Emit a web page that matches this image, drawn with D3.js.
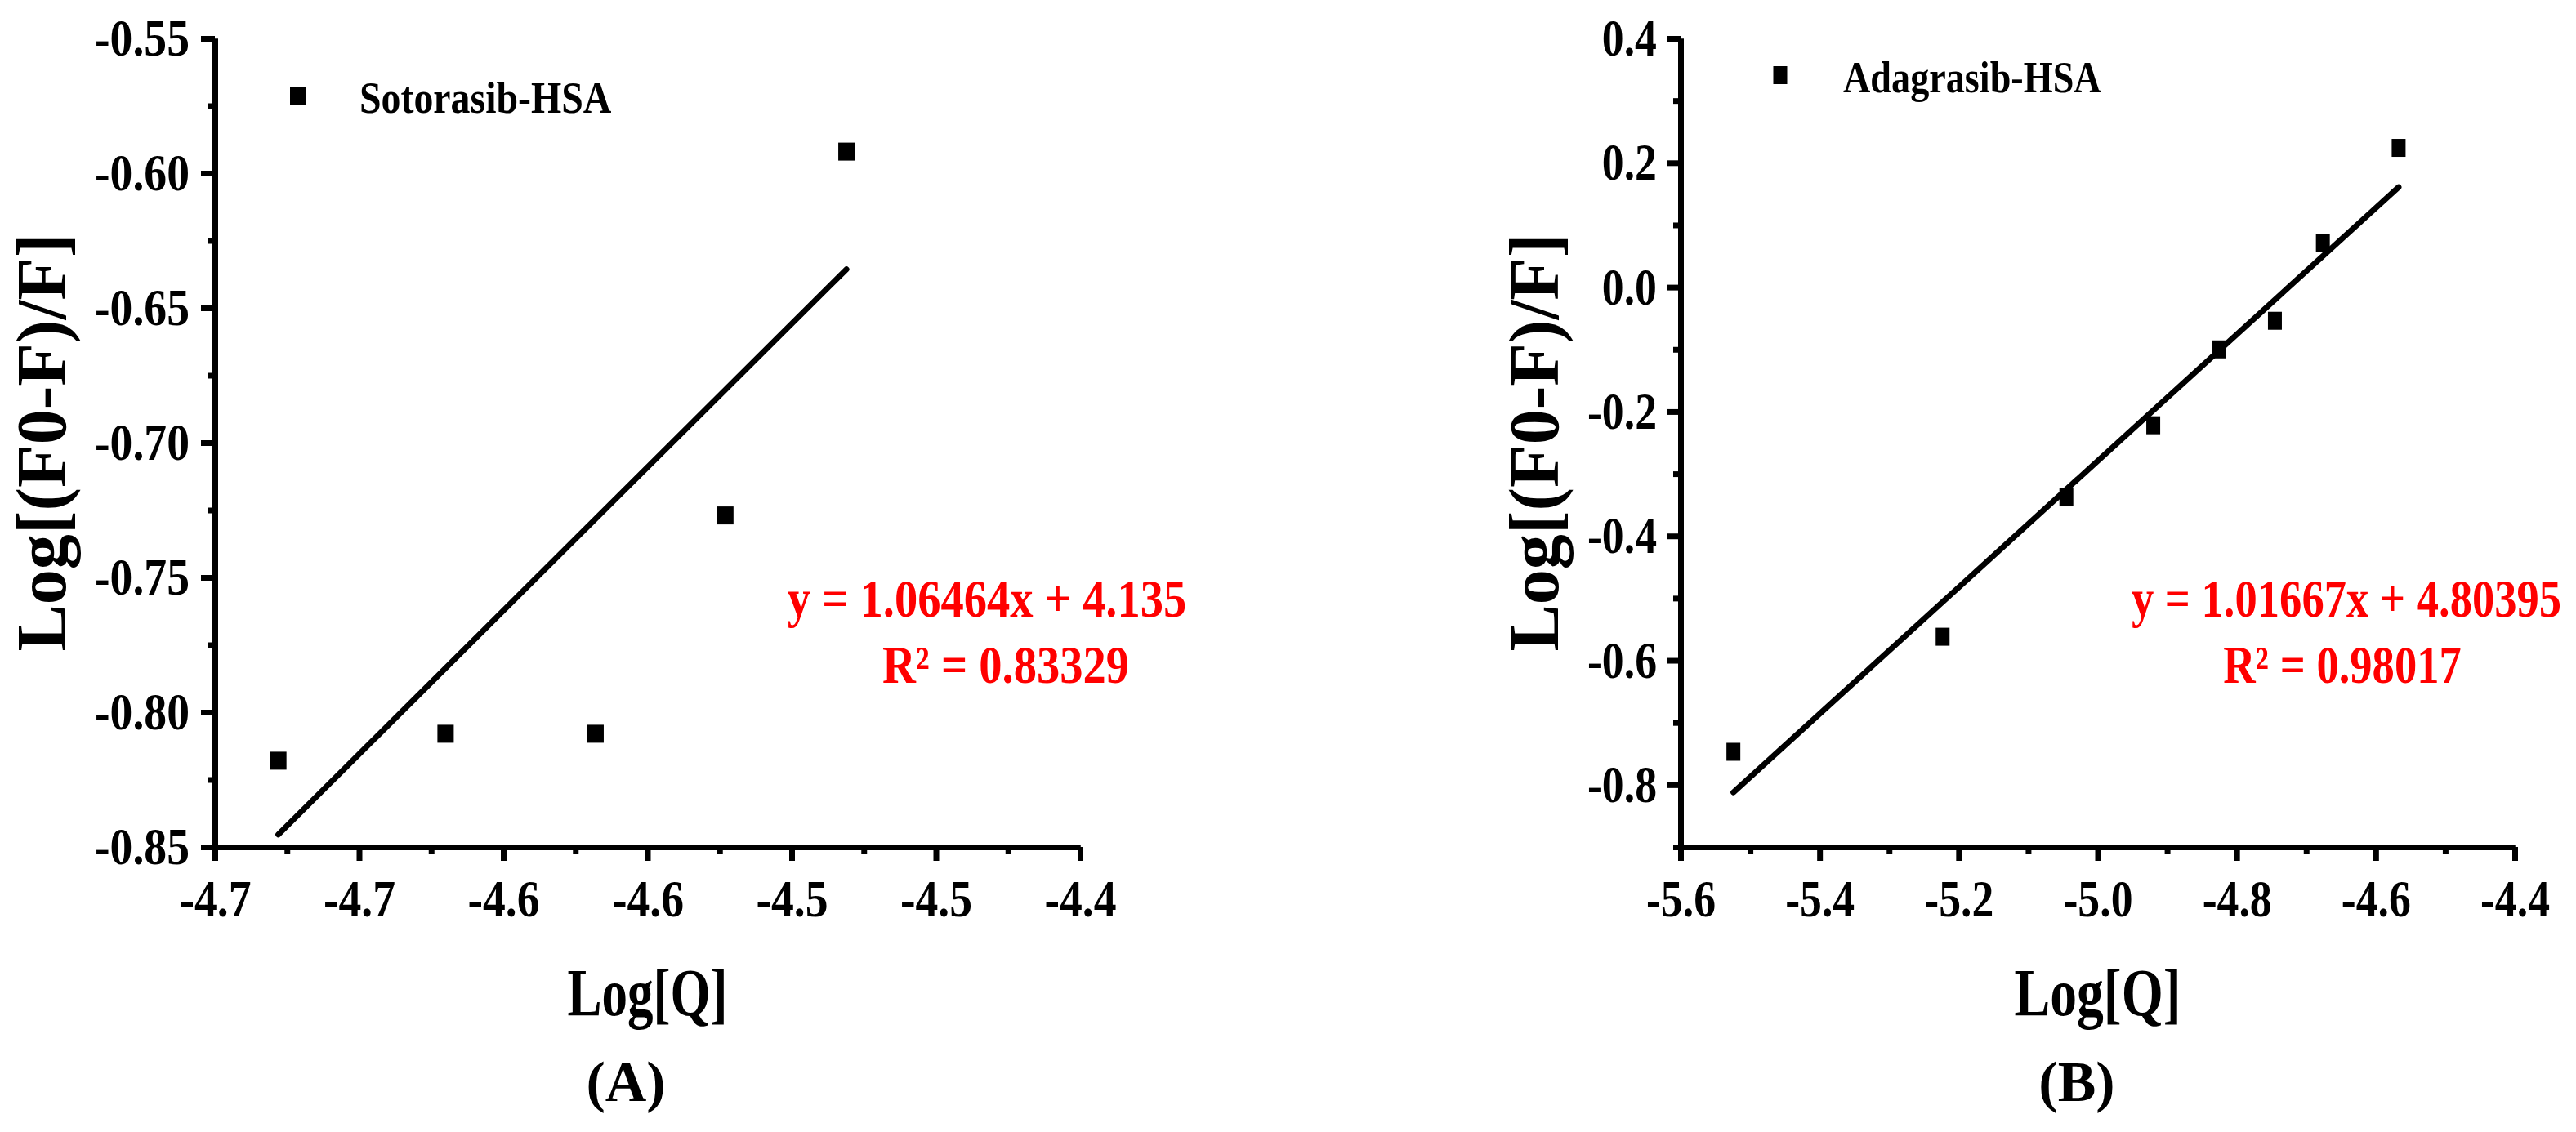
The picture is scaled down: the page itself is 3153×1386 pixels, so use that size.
<!DOCTYPE html>
<html>
<head>
<meta charset="utf-8">
<script src="https://cdn.jsdelivr.net/npm/d3@7"></script>
<style>
  body { margin: 0; background: #fff; }
  text { font-family: "Liberation Serif", "Times New Roman", serif; font-weight: bold; }
</style>
</head>
<body>
<div id="vis-container"></div>
<script>

const width = 3153,
    height = 1386;

// (A) Sotorasib-HSA
const sotoLogQ = [-4.678, -4.620, -4.568, -4.523, -4.481];
const sotoLogF = [-0.818, -0.808, -0.808, -0.727, -0.592];
const sotoFit = [1.06464, 4.135];          // slope, intercept
const sotoXTicks = [-4.70, -4.65, -4.60, -4.55, -4.50, -4.45, -4.40];
const sotoXLabels = ["-4.7", "-4.7", "-4.6", "-4.6", "-4.5", "-4.5", "-4.4"];
const sotoYTicks = [-0.85, -0.80, -0.75, -0.70, -0.65, -0.60, -0.55];
const sotoYLabels = ["-0.85", "-0.80", "-0.75", "-0.70", "-0.65", "-0.60", "-0.55"];

// (B) Adagrasib-HSA
const adaLogQ = [-5.524, -5.223, -5.045, -4.920, -4.825, -4.745, -4.676, -4.567];
const adaLogF = [-0.747, -0.562, -0.338, -0.222, -0.100, -0.054, 0.071, 0.224];
const adaFit = [1.01667, 4.80395];
const adaXTicks = [-5.6, -5.4, -5.2, -5.0, -4.8, -4.6, -4.4];
const adaXLabels = ["-5.6", "-5.4", "-5.2", "-5.0", "-4.8", "-4.6", "-4.4"];
const adaYTicks = [-0.8, -0.6, -0.4, -0.2, 0.0, 0.2, 0.4];
const adaYLabels = ["-0.8", "-0.6", "-0.4", "-0.2", "0.0", "0.2", "0.4"];

var svg = d3.select("#vis-container").append("svg")
    .attr("width", width)
    .attr("height", height);

// small helper for horizontally condensed text (the figure is squeezed a bit)
function label(g, x, y, str, size, sx, anchor, fill) {
    return g.append("text")
        .attr("transform", `translate(${x},${y}) scale(${sx},1)`)
        .attr("text-anchor", anchor)
        .style("font-size", size + "px")
        .attr("fill", fill || "#000")
        .text(str);
}

function midpoints(a) {
    var m = [];
    for (var i = 0; i < a.length - 1; i++) m.push((a[i] + a[i + 1]) / 2);
    return m;
}

function drawPanel(p) {
    var g = svg.append("g");
    var top = 47, bottom = 1037;

    var x = d3.scaleLinear().domain([p.xTicks[0], p.xTicks[p.xTicks.length - 1]]).range([p.left, p.right]);
    var y = d3.scaleLinear().domain(p.yDomain).range([bottom, top]);

    var yMinor = midpoints(p.yTicks);
    if (p.yDomain[0] < p.yTicks[0]) yMinor.unshift(p.yDomain[0]);

    // minor ticks
    g.append("g")
        .attr("transform", `translate(0,${bottom})`)
        .call(d3.axisBottom(x).tickValues(midpoints(p.xTicks)).tickSize(9).tickSizeOuter(0).tickFormat(""));
    g.append("g")
        .attr("transform", `translate(${p.left},0)`)
        .call(d3.axisLeft(y).tickValues(yMinor).tickSize(9).tickSizeOuter(0).tickFormat(""));

    // major ticks + labels
    var xAxis = g.append("g")
        .attr("transform", `translate(0,${bottom})`)
        .call(d3.axisBottom(x).tickValues(p.xTicks).tickSize(17).tickSizeOuter(0)
            .tickFormat((d, i) => p.xLabels[i]));
    xAxis.selectAll("text")
        .attr("y", 85).attr("dy", 0)
        .attr("transform", `scale(${p.sx},1)`)
        .style("font-size", "64px").attr("fill", "#000");

    var yAxis = g.append("g")
        .attr("transform", `translate(${p.left},0)`)
        .call(d3.axisLeft(y).tickValues(p.yTicks).tickSize(17).tickSizeOuter(0)
            .tickFormat((d, i) => p.yLabels[i]));
    yAxis.selectAll("text")
        .attr("x", -p.labelGap / p.sx)
        .attr("transform", `scale(${p.sx},1)`)
        .style("font-size", "64px").attr("fill", "#000");

    g.selectAll("path.domain, .tick line")
        .attr("stroke", "#000")
        .attr("stroke-width", 7);

    // fit line
    var xs = d3.extent(p.xs);
    g.append("line")
        .attr("x1", x(xs[0])).attr("y1", y(p.fit[0] * xs[0] + p.fit[1]))
        .attr("x2", x(xs[1])).attr("y2", y(p.fit[0] * xs[1] + p.fit[1]))
        .attr("stroke", "#000")
        .attr("stroke-width", 7)
        .attr("stroke-linecap", "round");

    // data points
    g.selectAll("rect.pt")
        .data(p.xs.map((d, i) => [d, p.ys[i]]))
        .enter().append("rect")
        .attr("class", "pt")
        .attr("x", d => x(d[0]) - p.mw / 2)
        .attr("y", d => y(d[1]) - p.mh / 2)
        .attr("width", p.mw)
        .attr("height", p.mh)
        .attr("fill", "#000");

    // legend
    g.append("rect")
        .attr("x", p.legend[0] - p.mw / 2).attr("y", p.legend[1] - p.mh / 2)
        .attr("width", p.mw).attr("height", p.mh)
        .attr("fill", "#000");
    label(g, p.legend[2], p.legend[1] + 21, p.name, 55, p.sx, "start");

    // equation
    label(g, p.eqX[0], 755, p.eq, 65, p.sx, "middle", "#ff0000");
    label(g, p.eqX[1], 836, p.r2, 65, p.sx, "middle", "#ff0000");

    // axis titles
    var cx = (p.left + p.right) / 2;
    label(g, cx, 1243, "Log[Q]", 83, p.titleSx, "middle");
    label(g, p.tagX, 1348, p.tag, 70, 1, "middle");

    g.append("text")
        .attr("transform", `translate(${p.yTitleX},542) rotate(-90)`)
        .attr("text-anchor", "middle")
        .style("font-size", "86px")
        .text("Log[(F0-F)/F]");
}

drawPanel({
    left: 263, right: 1322, sx: 0.87, titleSx: 0.76, labelGap: 31,
    xs: sotoLogQ, ys: sotoLogF, fit: sotoFit,
    xTicks: sotoXTicks, xLabels: sotoXLabels,
    yTicks: sotoYTicks, yLabels: sotoYLabels, yDomain: [-0.85, -0.55],
    mw: 20, mh: 22,
    legend: [365, 117, 440], name: "Sotorasib-HSA",
    eq: "y = 1.06464x + 4.135", r2: "R² = 0.83329", eqX: [1208, 1231],
    tag: "(A)", tagX: 766, yTitleX: 80
});

drawPanel({
    left: 2057, right: 3078, sx: 0.84, titleSx: 0.79, labelGap: 29,
    xs: adaLogQ, ys: adaLogF, fit: adaFit,
    xTicks: adaXTicks, xLabels: adaXLabels,
    yTicks: adaYTicks, yLabels: adaYLabels, yDomain: [-0.9, 0.4],
    mw: 17, mh: 22,
    legend: [2179, 92, 2256], name: "Adagrasib-HSA",
    eq: "y = 1.01667x + 4.80395", r2: "R² = 0.98017", eqX: [2872, 2867],
    tag: "(B)", tagX: 2542, yTitleX: 1907
});

</script>
</body>
</html>
